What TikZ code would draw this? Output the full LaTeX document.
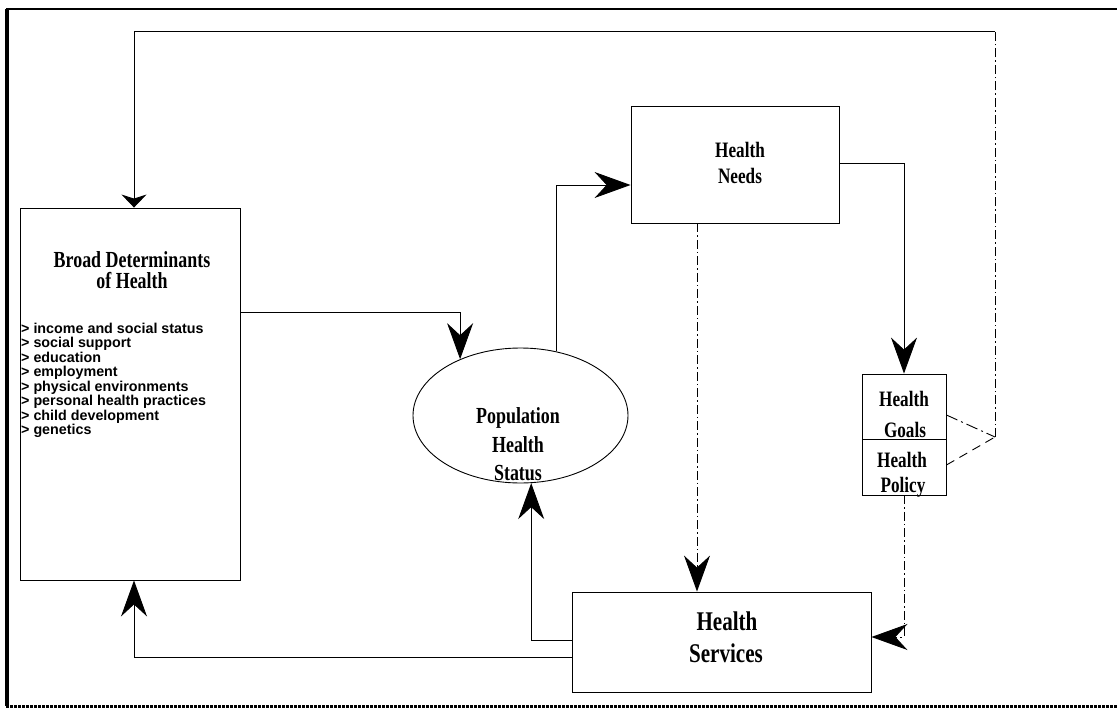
\documentclass[tikz,border=0pt]{standalone}
\usepackage{fontspec}
\setmainfont{Liberation Serif}
\newfontfamily\titlefont{Liberation Serif}[FakeStretch=0.78]
\newfontfamily\listfont{Liberation Sans}
\usetikzlibrary{arrows.meta,shapes.geometric}
\tikzset{
  box/.style={draw, rectangle, line width=0.9pt, inner sep=0pt},
  arr/.style={line width=0.9pt, -{Stealth[length=36pt,width=26pt,inset=12pt]}},
  arrsmall/.style={line width=0.9pt, -{Stealth[length=13pt,width=25pt,inset=4pt]}},
  dd/.style={line width=0.9pt, dash pattern=on 9pt off 3pt on 1.5pt off 3pt},
  gdash/.style={line width=0.9pt, dash pattern=on 12pt off 4pt on 2pt off 4pt},
  pdash/.style={line width=0.9pt, dash pattern=on 9pt off 6pt},
  ttl/.style={anchor=base, inner sep=0pt, font=\titlefont\bfseries\fontsize{#1}{#1}\selectfont},
  ttl/.default=22,
  listtxt/.style={anchor=base west, inner sep=0pt, font=\listfont\bfseries\fontsize{14.3}{14.5}\selectfont}
}
\begin{document}
\begin{tikzpicture}[x=1pt,y=-1pt]
\useasboundingbox (0,0) rectangle (1117,709);
% outer frame
\draw[line width=3.5pt] (7,706) -- (7,9);
\draw[line width=2.4pt] (6,9) -- (1117,9);
\draw[line width=3pt, dash pattern=on 3pt off 1pt] (6,706) -- (1117,706);

% boxes
\node[box, minimum width=220pt, minimum height=372pt] (bd) at (130,394) {};
\node[box, ellipse, minimum width=215pt, minimum height=135pt] (pop) at (520.5,415.5) {};
\node[box, minimum width=208pt, minimum height=117pt] (needs) at (735,164.5) {};
\node[box, minimum width=84pt, minimum height=65pt] (goals) at (904,406.5) {};
\node[box, minimum width=84pt, minimum height=56pt] (policy) at (904,467) {};
\node[box, minimum width=299pt, minimum height=100pt] (hs) at (721.5,642) {};

% texts
\node[ttl=23] (bdt1) at (132,267) {Broad Determinants};
\node[ttl=23] (bdt2) at (132,288) {of Health};
\foreach \t [count=\i] in {> income and social status, > social support, > education, > employment, > physical environments, > personal health practices, > child development, > genetics}
  \node[listtxt, name=li\i] at (21,{333+14.5*(\i-1)}) {\t};
\node[ttl=22] (nt1) at (740,157) {Health};
\node[ttl=22] (nt2) at (740,183) {Needs};
\node[ttl=23] (pt1) at (518,423) {Population};
\node[ttl=23] (pt2) at (518,452) {Health};
\node[ttl=23] (pt3) at (518,480) {Status};
\node[ttl=22] (gt1) at (904,406) {Health};
\node[ttl=22] (gt2) at (905,437) {Goals};
\node[ttl=22] (yt1) at (902,467) {Health};
\node[ttl=22] (yt2) at (903,492) {Policy};
\node[ttl=27] (ht1) at (727,630) {Health};
\node[ttl=27] (ht2) at (726,662) {Services};

% lanes
\coordinate (r1) at (0,312);
\coordinate (r2) at (0,185);
\coordinate (r3) at (0,163);
\coordinate (r4) at (0,640);
\coordinate (r5) at (0,657);
\coordinate (r6) at (0,637);
\coordinate (ga) at (0,415);
\coordinate (pa) at (0,465);
\coordinate (c697) at (697,0);
\coordinate (apex) at (995,437);
\coordinate (topR) at (995,31);
\coordinate (topL) at (134,31);

% connectors
\draw[arr] (bd.east |- r1) -| (pop.137.5);
\draw[arr] (pop.61.6) |- (needs.west |- r2);
\draw[arr] (needs.east |- r3) -| (goals.north);
\draw[dd,arr] (needs.south -| c697) -- (hs.north -| c697);
\draw[dd,arr] (policy.south) |- (hs.east |- r6);
\draw[arr] (hs.west |- r4) -| (pop.279.7);
\draw[arr] (hs.west |- r5) -| (bd.south -| topL);
\draw[gdash] (goals.east |- ga) -- (apex);
\draw[pdash] (policy.east |- pa) -- (apex);
\draw[dd] (apex) -- (topR);
\draw[arrsmall] (topR) -- (topL) -- (bd.north -| topL);
\end{tikzpicture}
\end{document}
